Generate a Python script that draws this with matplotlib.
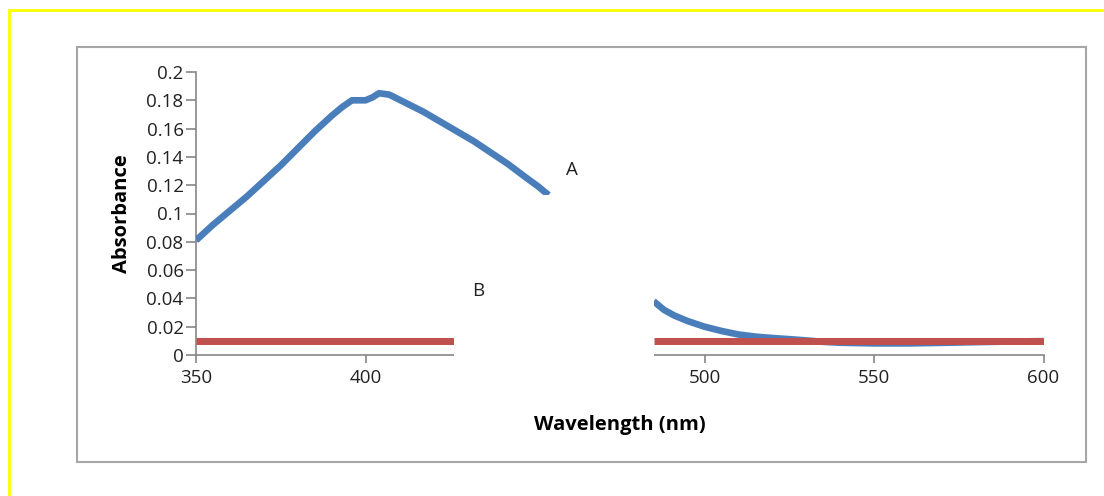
import matplotlib.pyplot as plt
from matplotlib.patches import Rectangle
import numpy as np

plt.rcParams['font.family'] = ['Open Sans', 'DejaVu Sans']

# curve A (blue), gap in the middle of the picture
wl_a = [350, 355, 360, 365, 370, 375, 380, 385, 390, 393, 396, 400, 402, 404,
        407, 412, 417, 422, 427, 432, 437, 442, 447, 451, 454,
        np.nan,
        485, 488, 491, 495, 500, 505, 510, 515, 520, 525, 530, 535, 540, 550,
        560, 570, 580, 590, 600]
abs_a = [0.081, 0.092, 0.102, 0.112, 0.123, 0.134, 0.146, 0.158, 0.169, 0.175,
         0.180, 0.180, 0.182, 0.185, 0.184, 0.178, 0.172, 0.165, 0.158, 0.151,
         0.143, 0.135, 0.126, 0.119, 0.113,
         np.nan,
         0.038, 0.032, 0.028, 0.024, 0.020, 0.017, 0.0145, 0.013, 0.012, 0.0112,
         0.0103, 0.0093, 0.0087, 0.0082, 0.0082, 0.0086, 0.0091, 0.0095, 0.0098]

# line B (red)
wl_b = [350, 426, np.nan, 485, 600]
abs_b = [0.01, 0.01, np.nan, 0.01, 0.01]

yticks = [0, 0.02, 0.04, 0.06, 0.08, 0.1, 0.12, 0.14, 0.16, 0.18, 0.2]
ytick_labels = ['0', '0.02', '0.04', '0.06', '0.08', '0.1', '0.12', '0.14',
                '0.16', '0.18', '0.2']
xticks = [350, 400, 500, 550, 600]

fig = plt.figure(figsize=(11.04, 4.96), dpi=100)
W, H = 1104, 496

# yellow outer frame and grey chart frame
fig.patches.append(Rectangle((9 / W, -0.1), 1.2, 1 - 10 / H + 0.1,
                             transform=fig.transFigure, fill=False,
                             ec='#ffff00', lw=2))
fig.patches.append(Rectangle((77 / W, 1 - 462 / H), (1086 - 77) / W,
                             (462 - 47) / H, transform=fig.transFigure,
                             fill=False, ec='#a6a6a6', lw=1.5))

ax = fig.add_axes([196 / W, 1 - 355 / H, (1043.5 - 196) / W, (355 - 72) / H])

ax.plot(wl_a, abs_a, color='#4a7ebb', lw=4.8, solid_capstyle='butt', zorder=3)
ax.plot(wl_b, abs_b, color='#c0504d', lw=5, solid_capstyle='butt', zorder=4)

ax.set_xlim(350, 600)
ax.set_ylim(0, 0.2)
ax.set_xticks(xticks)
ax.set_yticks(yticks)
ax.set_yticklabels(ytick_labels)

for s in ['top', 'right']:
    ax.spines[s].set_visible(False)
for s in ['left', 'bottom']:
    ax.spines[s].set_color('#868686')
    ax.spines[s].set_linewidth(1.2)
ax.tick_params(axis='y', direction='out', length=7, width=1.2,
               color='#868686', labelsize=13.5, labelcolor='#222222', pad=2)
ax.tick_params(axis='x', direction='out', length=6, width=1.2,
               color='#868686', labelsize=13.5, labelcolor='#222222', pad=4)

# blank area hiding the middle of the axis line
ax.add_patch(Rectangle((426, -0.03), 59, 0.143, fc='white', ec='none',
                       clip_on=False, zorder=5))

ax.text(460.9, 0.131, 'A', fontsize=13.5, ha='center', va='center',
        color='#222222', zorder=6)
ax.text(433.2, 0.045, 'B', fontsize=13.5, ha='center', va='center',
        color='#222222', zorder=6)

ax.set_xlabel('Wavelength (nm)', fontsize=14.5, fontweight='bold', labelpad=20)
ax.set_ylabel('Absorbance', fontsize=14.5, fontweight='bold', labelpad=10)

fig.savefig('out.png', dpi=100)
